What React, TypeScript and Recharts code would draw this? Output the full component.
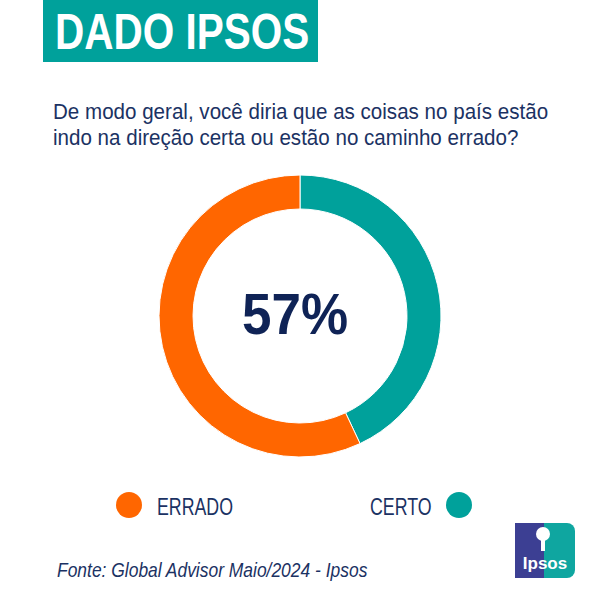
import { Cell, Pie, PieChart } from 'recharts';
import type { CSSProperties, ReactNode } from 'react';

const categories = ['CERTO', 'ERRADO'];
const values = [43, 57];
const colors = ['#00A19B', '#FF6600'];
const highlight = '57%';

const titleText = 'DADO IPSOS';
const questionLines = [
  'De modo geral, você diria que as coisas no país estão',
  'indo na direção certa ou estão no caminho errado?'
];
const sourceText = 'Fonte: Global Advisor Maio/2024 - Ipsos';

const NAVY = '#1b3263';
const FONT = '"Liberation Sans", Arial, sans-serif';

const pieData = categories.map((name, i) => ({ name, value: values[i] }));

// text placed by its baseline, squeezed horizontally to mimic a condensed face
function Label({
  x,
  baseline,
  size,
  scale,
  style,
  children
}: {
  x: number;
  baseline: number;
  size: number;
  scale: number;
  style?: CSSProperties;
  children: ReactNode;
}) {
  return (
    <div
      style={{
        position: 'absolute',
        left: x,
        top: baseline - 0.8465 * size,
        fontSize: size,
        lineHeight: `${size}px`,
        whiteSpace: 'nowrap',
        transform: `scaleX(${scale})`,
        transformOrigin: 'left top',
        color: NAVY,
        ...style
      }}
    >
      {children}
    </div>
  );
}

export default function App() {
  return (
    <div
      style={{
        position: 'absolute',
        left: 0,
        top: 0,
        width: 600,
        height: 600,
        background: '#ffffff',
        overflow: 'hidden',
        fontFamily: FONT
      }}
    >
      {/* title box */}
      <div style={{ position: 'absolute', left: 43, top: 0, width: 275, height: 62, background: '#00A19B' }} />
      <Label x={55} baseline={49.3} size={50} scale={0.81} style={{ color: '#ffffff', fontWeight: 700 }}>
        {titleText}
      </Label>

      {/* question */}
      {questionLines.map((line, i) => (
        <Label key={line} x={53} baseline={119.3 + i * 26.4} size={22} scale={0.935}>
          {line}
        </Label>
      ))}

      <div style={{ position: 'absolute', left: 0, top: 0 }}>
        <PieChart width={600} height={600} margin={{ top: 0, right: 0, bottom: 0, left: 0 }}>
          <Pie
            data={pieData}
            dataKey="value"
            nameKey="name"
            cx={300}
            cy={316}
            innerRadius={107}
            outerRadius={141}
            startAngle={90}
            endAngle={-270}
            stroke="#ffffff"
            strokeWidth={1}
            isAnimationActive={false}
          >
            {pieData.map((entry, i) => (
              <Cell key={entry.name} fill={colors[i]} />
            ))}
          </Pie>
        </PieChart>
      </div>

      {/* center value */}
      <Label x={242} baseline={334} size={57} scale={0.93} style={{ color: '#0f2356', fontWeight: 700 }}>
        {highlight}
      </Label>

      {/* legend: ERRADO left, CERTO right */}
      <div style={{ position: 'absolute', left: 116, top: 492, width: 26, height: 26, borderRadius: 13, background: colors[1] }} />
      <Label x={157} baseline={515} size={24} scale={0.74}>
        {categories[1]}
      </Label>
      <Label x={370} baseline={515} size={24} scale={0.74}>
        {categories[0]}
      </Label>
      <div style={{ position: 'absolute', left: 446, top: 492, width: 26, height: 26, borderRadius: 13, background: colors[0] }} />

      {/* source */}
      <Label x={57} baseline={576.7} size={21} scale={0.83} style={{ fontStyle: 'italic' }}>
        {sourceText}
      </Label>

      {/* logo */}
      <div
        style={{
          position: 'absolute',
          left: 515,
          top: 523,
          width: 60,
          height: 55,
          background: 'linear-gradient(90deg, #3c3f93 0%, #3c3f93 48%, #0fa6a0 48%, #0fa6a0 100%)',
          borderTopRightRadius: 8,
          borderBottomRightRadius: 8
        }}
      >
        <div
          style={{
            position: 'absolute',
            left: 21,
            top: 4,
            width: 14,
            height: 14,
            borderRadius: 7,
            background: '#ffffff'
          }}
        />
        <div style={{ position: 'absolute', left: 26, top: 16, width: 4, height: 12, background: '#ffffff' }} />
        <div
          style={{
            position: 'absolute',
            left: 0,
            width: 60,
            top: 31,
            textAlign: 'center',
            color: '#ffffff',
            fontWeight: 700,
            fontSize: 17,
            lineHeight: '20px'
          }}
        >
          Ipsos
        </div>
      </div>
    </div>
  );
}
